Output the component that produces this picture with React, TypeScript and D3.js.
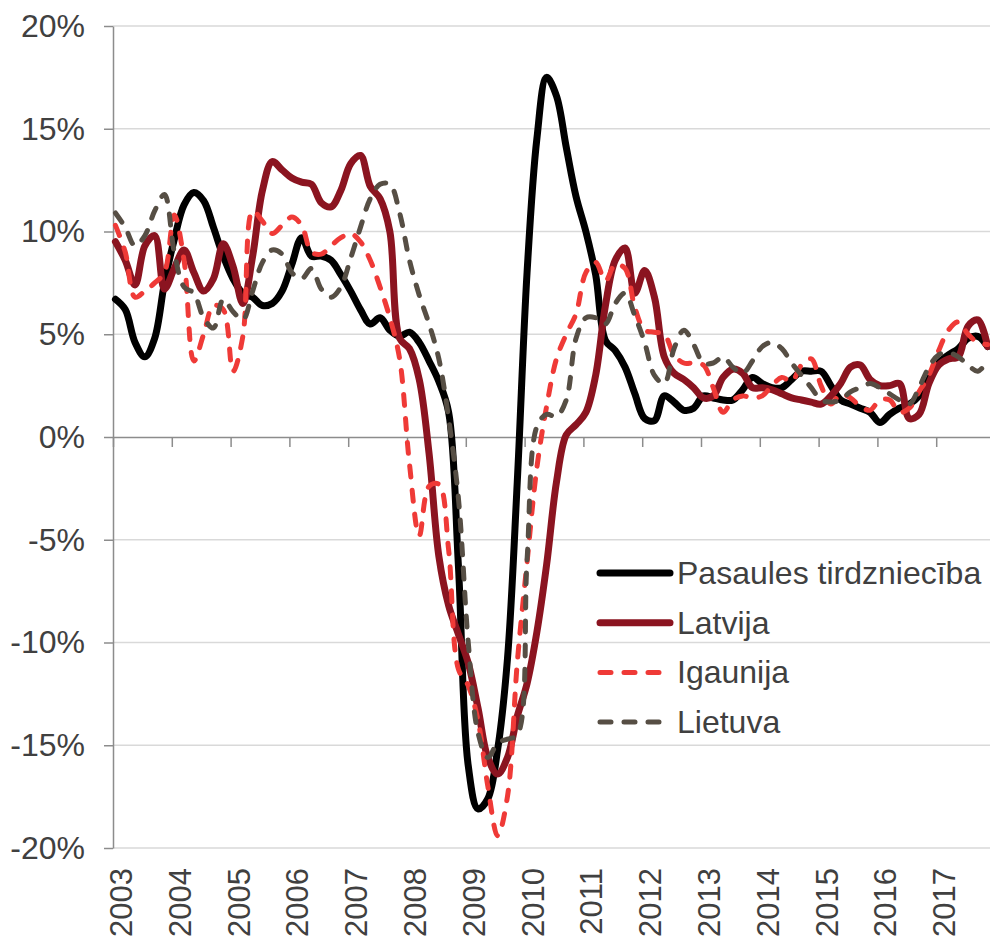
import { useRef, useEffect } from 'react';
import * as d3 from 'd3';

// Year labels on the category axis (monthly data, one label per year)
const years = [2003, 2004, 2005, 2006, 2007, 2008, 2009, 2010, 2011, 2012, 2013, 2014, 2015, 2016, 2017];
const yTicks = [-20, -15, -10, -5, 0, 5, 10, 15, 20];

// values every 2 months, starting Jan 2003 (%)
const pasaule = [
    6.7, 6.2, 4.6, 3.9, 4.8, 7.5, 9.6, 11.3, 11.9, 11.5, 10.2, 8.8,
    7.7, 7.0, 6.8, 6.4, 6.5, 7.1, 8.4, 9.7, 8.8, 8.8, 8.6, 7.9,
    7.1, 6.2, 5.5, 5.8, 5.2, 4.9, 5.1, 4.6, 3.7, 2.7, 1.2, -6.3,
    -16.0, -18.1, -17.6, -15.2, -10.8, -2.2, 8.0, 14.5, 17.5, 16.6, 14.1, 11.7,
    10.0, 7.9, 4.7, 4.2, 3.4, 2.1, 0.9, 0.8, 2.0, 1.7, 1.3, 1.4,
    2.0, 1.9, 1.8, 1.8, 2.3, 2.9, 2.6, 2.4, 2.4, 2.8, 3.2, 3.2,
    3.2, 2.5, 1.8, 1.6, 1.4, 1.2, 0.7, 1.1, 1.4, 1.6, 2.0, 2.8,
    3.6, 4.0, 4.3, 4.8, 4.9, 4.4,
];

const latvija = [
    9.5, 8.6, 7.4, 9.3, 9.8, 7.2, 8.2, 9.1, 8.0, 7.1, 7.7, 9.4,
    8.3, 6.5, 8.8, 12.0, 13.4, 13.0, 12.6, 12.4, 12.3, 11.4, 11.2, 12.0,
    13.3, 13.7, 12.2, 11.6, 10.0, 4.8, 4.3, 2.8, -0.8, -5.8, -8.2, -9.6,
    -11.0, -13.2, -15.6, -16.4, -15.6, -13.6, -12.0, -9.5, -6.2, -2.2, 0.1, 0.6,
    1.2, 3.0, 6.4, 8.6, 9.2, 7.0, 8.1, 6.8, 3.9, 3.1, 2.8, 2.4,
    1.9, 2.0, 2.9, 3.3, 3.1, 2.4, 2.4, 2.3, 2.1, 1.9, 1.8, 1.7,
    1.6, 2.0, 2.6, 3.4, 3.5, 2.8, 2.5, 2.5, 2.6, 0.9, 1.1, 2.6,
    3.5, 3.8, 3.9, 5.4, 5.7, 4.4,
];

const igaunija = [
    10.3, 9.0, 6.8, 7.1, 7.5, 8.0, 10.8, 8.6, 3.7, 5.0, 6.4, 6.2,
    3.2, 4.9, 11.0, 10.5, 9.9, 10.3, 10.7, 10.3, 9.0, 8.9, 9.3, 9.7,
    9.9, 9.5, 8.6, 7.3, 5.8, 3.8, -1.3, -4.8, -2.4, -2.3, -5.5, -11.3,
    -12.1, -13.8, -17.0, -19.4, -17.5, -11.0, -6.1, -1.5, 1.5, 3.8, 5.0, 6.0,
    8.0, 8.5, 7.6, 8.4, 8.2, 6.3, 5.2, 5.1, 5.0, 4.0, 3.6, 3.6,
    3.5, 2.4, 1.2, 1.8, 2.0, 1.9, 2.0, 2.5, 2.9, 2.7, 3.5, 3.8,
    2.5, 1.6, 2.1, 1.9, 1.5, 1.3, 1.8, 1.8, 1.2, 1.4, 2.2, 3.0,
    4.2, 5.2, 5.6, 5.0, 4.6, 4.5,
];

const lietuva = [
    10.9, 10.2, 9.3, 9.8, 11.0, 11.8, 9.0, 7.3, 7.0, 5.8, 5.3, 6.7,
    6.1, 5.7, 7.1, 8.5, 9.1, 8.9, 8.0, 7.7, 8.2, 7.2, 6.8, 7.3,
    8.7, 10.2, 11.6, 12.3, 12.3, 10.9, 8.6, 6.9, 5.5, 3.8, 0.9, -3.0,
    -10.0, -14.4, -15.6, -14.9, -14.7, -14.5, -6.0, 0.5, 1.1, 1.0, 1.8, 4.8,
    5.8, 5.8, 5.5, 6.5, 7.0, 5.9, 4.6, 3.0, 2.6, 4.3, 5.2, 4.5,
    3.6, 3.6, 3.9, 3.4, 3.1, 3.7, 4.4, 4.6, 4.3, 3.6, 3.0, 2.4,
    1.8, 1.7, 1.8, 2.2, 2.4, 2.6, 2.4, 2.1, 1.8, 1.6, 2.4, 3.4,
    4.0, 4.1, 3.9, 3.5, 3.2, 3.7,
];

const STEP = 2; // months between values

const series = [
    { name: 'Pasaules tirdzniecība', values: pasaule, color: '#000000', width: 7, dash: null },
    { name: 'Latvija', values: latvija, color: '#8b1420', width: 7, dash: null },
    { name: 'Igaunija', values: igaunija, color: '#ef3a37', width: 5, dash: '11 13' },
    { name: 'Lietuva', values: lietuva, color: '#564e44', width: 5, dash: '11 13' },
];

export default function App() {
    const svgRef = useRef<SVGSVGElement | null>(null);
    const width = 990;
    const height = 940;

    useEffect(() => {
        if (!svgRef.current) return;
        const svg = d3.select(svgRef.current);
        svg.selectAll('*').remove();

        const left = 113, right = 995, top = 26, bottom = 848;
        const font = 'Arial, "Liberation Sans", sans-serif';
        const textColor = '#404040';
        const axisColor = '#8c8c8c';

        const x = d3.scaleLinear().domain([0, years.length * 12]).range([left, right]);
        const y = d3.scaleLinear().domain([-20, 20]).range([bottom, top]);

        // horizontal gridlines
        svg.append('g')
            .selectAll('line')
            .data(yTicks.filter(d => d !== 0))
            .join('line')
            .attr('x1', left)
            .attr('x2', right)
            .attr('y1', d => y(d))
            .attr('y2', d => y(d))
            .attr('stroke', '#d9d9d9')
            .attr('stroke-width', 1.5);

        // y axis
        const yAxis = svg.append('g')
            .attr('transform', `translate(${left},0)`)
            .call(d3.axisLeft(y).tickValues(yTicks).tickFormat(d => `${d}%`).tickSize(9).tickSizeOuter(0).tickPadding(19));
        yAxis.selectAll('path, line').attr('stroke', axisColor).attr('stroke-width', 1.5);
        yAxis.attr('font-size', 32).attr('font-family', font);
        yAxis.selectAll('text').attr('fill', textColor);

        // category axis sits on the 0% line
        const xAxis = svg.append('g')
            .attr('transform', `translate(0,${y(0)})`)
            .call(d3.axisBottom(x).tickValues(years.map((_, i) => i * 12)).tickSize(10).tickSizeOuter(0).tickFormat(() => ''));
        xAxis.selectAll('path, line').attr('stroke', axisColor).attr('stroke-width', 1.5);

        // year labels at the bottom, rotated
        svg.append('g')
            .selectAll('text')
            .data(years)
            .join('text')
            .attr('transform', (_, i) => `translate(${x(i * 12) + 19},868) rotate(-90)`)
            .attr('text-anchor', 'end')
            .attr('font-family', font)
            .attr('font-size', 31)
            .attr('fill', textColor)
            .text(d => d);

        // Line generator
        const line = d3.line<number>()
            .x((_, i) => x(i * STEP + 0.5))
            .y(d => y(d))
            .curve(d3.curveCatmullRom.alpha(0.5));

        series.forEach(s => {
            svg.append('path')
                .datum(s.values)
                .attr('fill', 'none')
                .attr('stroke', s.color)
                .attr('stroke-width', s.width)
                .attr('stroke-linecap', 'round')
                .attr('stroke-linejoin', 'round')
                .attr('stroke-dasharray', s.dash)
                .attr('d', line);
        });

        // legend
        const legend = svg.append('g').attr('transform', 'translate(598,573)');
        const rows = legend.selectAll('g')
            .data(series)
            .join('g')
            .attr('transform', (_, i) => `translate(0,${i * 49.7})`);
        rows.append('line')
            .attr('x1', 2)
            .attr('x2', d => (d.dash ? 62 : 72))
            .attr('stroke', d => d.color)
            .attr('stroke-width', d => d.width)
            .attr('stroke-linecap', 'round')
            .attr('stroke-dasharray', d => d.dash);
        rows.append('text')
            .attr('x', 79)
            .attr('y', 11)
            .attr('font-family', font)
            .attr('font-size', 32)
            .attr('fill', textColor)
            .text(d => d.name);
    }, []);

    return (
        <svg
            ref={svgRef}
            width={width}
            height={height}
            style={{ position: 'absolute', left: 0, top: 0, background: '#fff' }}
        />
    );
}
